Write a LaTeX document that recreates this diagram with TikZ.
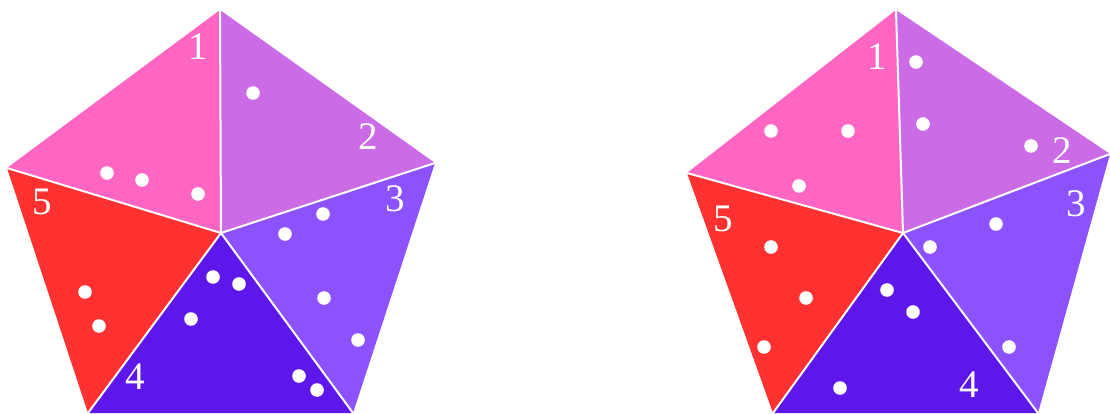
\documentclass[tikz,border=0pt]{standalone}
\usepackage{fontspec}
\setmainfont{Liberation Serif}
\usepackage{tikz}

\definecolor{pinkA}{HTML}{FF66C4}
\definecolor{orchidA}{HTML}{CB6CE6}
\definecolor{violetA}{HTML}{8C52FF}
\definecolor{indigoA}{HTML}{5E17EB}
\definecolor{redA}{HTML}{FF3131}

\begin{document}
\begin{tikzpicture}[
  x=1pt, y=-1pt,
  spoke/.style={draw=white, line width=2pt},
  dot/.style={fill=white},
  num/.style={text=white, inner sep=0pt, font=\fontsize{39}{39}\selectfont}
]
\useasboundingbox (0,0) rectangle (1110,414);

% Left pentagon
\coordinate (lc) at (221,233);
\coordinate (la) at (220,10);
\coordinate (lb) at (435,163);
\coordinate (ld) at (353,413);
\coordinate (le) at (88,413);
\coordinate (lf) at (7,168);
\fill[pinkA] (lc) -- (lf) -- (la) -- cycle;
\fill[orchidA] (lc) -- (la) -- (lb) -- cycle;
\fill[violetA] (lc) -- (lb) -- (ld) -- cycle;
\fill[indigoA] (lc) -- (ld) -- (le) -- cycle;
\fill[redA] (lc) -- (le) -- (lf) -- cycle;
\foreach \v in {la,lb,ld,le,lf}
  \draw[spoke] (lc) -- (\v);

\foreach \p in {(107,173),(142,180),(198,194),(253,93),(323,214),(285,234),
                (324,298),(358,340),(213,277),(239,284),(191,319),(299,376),
                (317,390),(85,292),(99,326)}
  \fill[dot] \p circle (6.8pt);

\node[num] (l1) at (198,47) {1};
\node[num] (l2) at (368,137) {2};
\node[num] (l3) at (395,199) {3};
\node[num] (l4) at (135,377) {4};
\node[num] (l5) at (42,202) {5};

% Right pentagon
\coordinate (rc) at (903,233);
\coordinate (ra) at (896,10);
\coordinate (rb) at (1110,154);
\coordinate (rd) at (1038,413);
\coordinate (re) at (773,413);
\coordinate (rf) at (687,173);
\fill[pinkA] (rc) -- (rf) -- (ra) -- cycle;
\fill[orchidA] (rc) -- (ra) -- (rb) -- cycle;
\fill[violetA] (rc) -- (rb) -- (rd) -- cycle;
\fill[indigoA] (rc) -- (rd) -- (re) -- cycle;
\fill[redA] (rc) -- (re) -- (rf) -- cycle;
\foreach \v in {ra,rb,rd,re,rf}
  \draw[spoke] (rc) -- (\v);

\foreach \p in {(771,131),(848,131),(799,186),(916,62),(923,124),(1031,146),
                (996,224),(930,247),(1009,347),(887,290),(913,312),(840,388),
                (771,247),(806,298),(764,347)}
  \fill[dot] \p circle (6.8pt);

\node[num] (r1) at (877,57) {1};
\node[num] (r2) at (1062,151) {2};
\node[num] (r3) at (1076,204) {3};
\node[num] (r4) at (969,385) {4};
\node[num] (r5) at (723,219) {5};
\end{tikzpicture}
\end{document}
